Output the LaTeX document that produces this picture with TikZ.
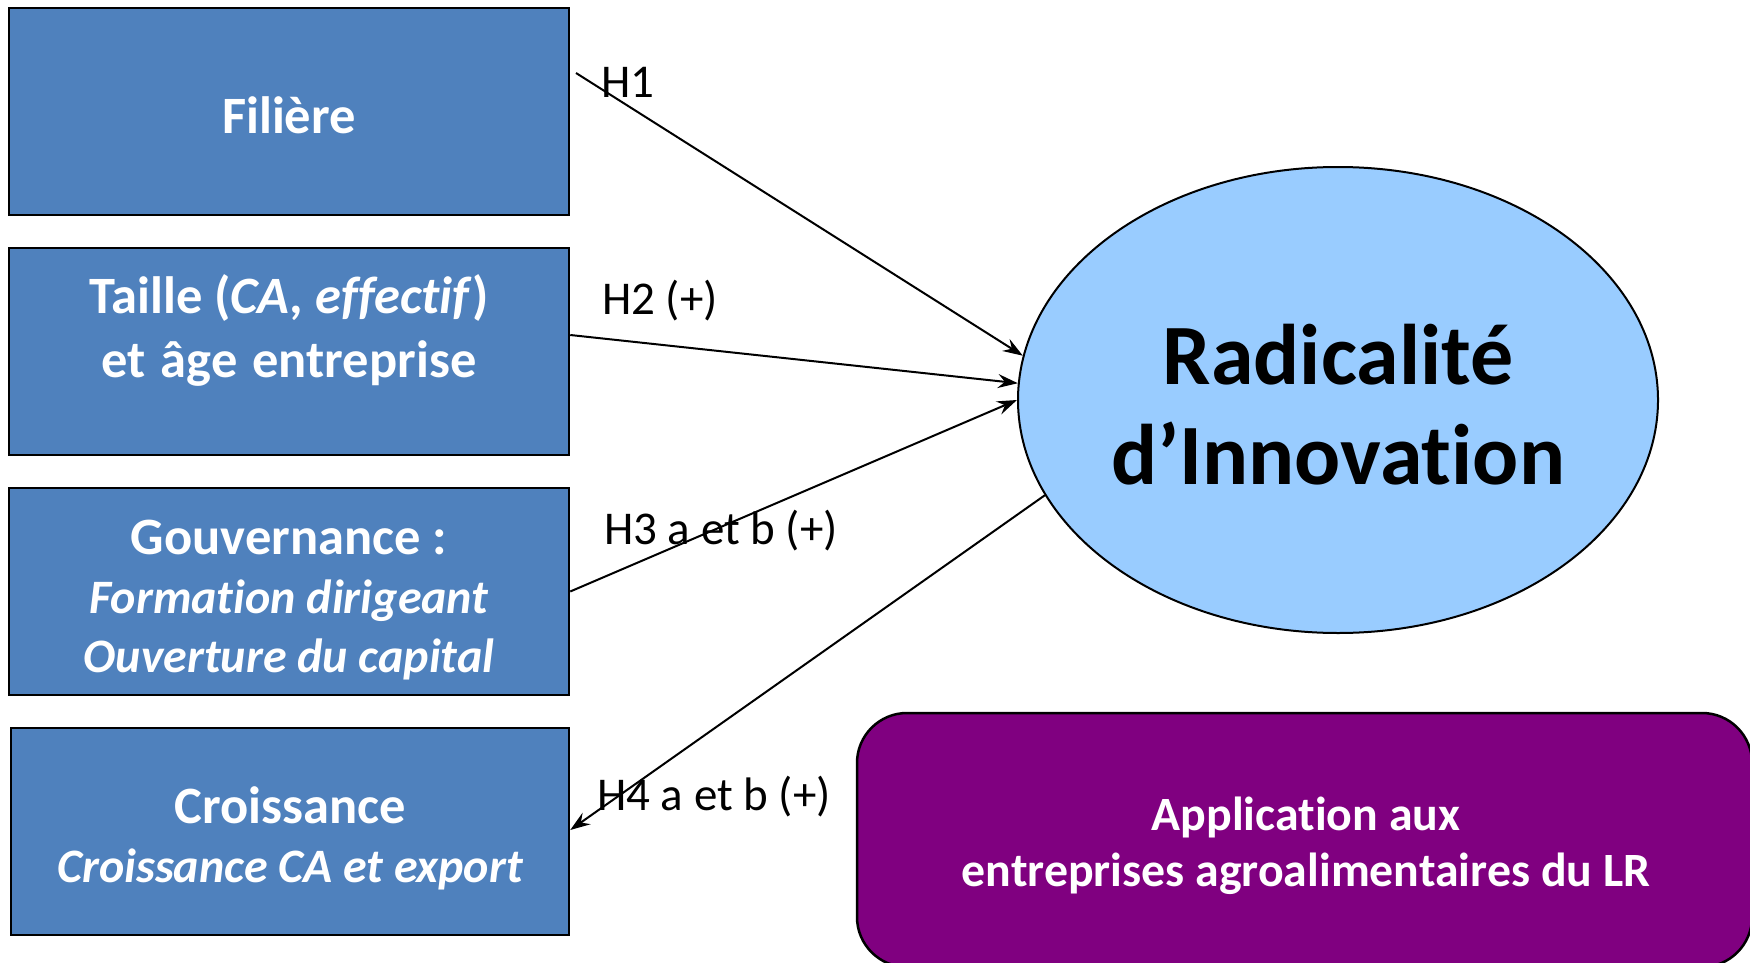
\documentclass[tikz,border=0pt]{standalone}
\usepackage{fontspec}
\setmainfont{Carlito}[Ligatures=CommonOff]
\usetikzlibrary{arrows.meta,shapes.geometric}
\definecolor{boxblue}{HTML}{4F81BD}
\definecolor{ellblue}{HTML}{99CCFF}
\definecolor{appurple}{HTML}{800080}
\newcommand{\ita}[1]{{\fontsize{48}{59}\selectfont\itshape #1}}
\tikzset{
  bbox/.style={draw=black, line width=2.5pt, fill=boxblue,
    minimum width=560pt, minimum height=207pt, inner sep=0pt},
  btext/.style={text=white, align=center, inner sep=0pt,
    font=\fontsize{52.5}{59}\selectfont\bfseries},
  ell/.style={ellipse, draw=black, line width=2pt, fill=ellblue,
    minimum width=640pt, minimum height=466pt, inner sep=0pt},
  etext/.style={align=center, inner sep=0pt, font=\fontsize{86}{100}\selectfont\bfseries},
  pbox/.style={draw=black, line width=2.5pt, fill=appurple,
    rounded corners=50pt, minimum width=895pt, minimum height=254pt, inner sep=0pt},
  ptext/.style={text=white, align=center, inner sep=0pt,
    font=\fontsize{47.8}{56}\selectfont\bfseries},
  hlab/.style={font=\fontsize{47}{56}\selectfont, inner sep=0pt},
  conn/.style={line width=2pt, -{Stealth[length=20pt,width=14pt,inset=7pt]}}
}
\begin{document}
\begin{tikzpicture}[x=1pt,y=-1pt]
\useasboundingbox (0,0) rectangle (1750,963);
\clip (0,0) rectangle (1750,963);
\fill[white] (0,0) rectangle (1750,963);
\node[bbox] (f) at (289,111.5) {};
\node[bbox] (t) at (289,351.5) {};
\node[bbox] (g) at (289,591.5) {};
\node[bbox, minimum width=558pt] (c) at (290,831.5) {};
\node[btext] (ftxt) at ([yshift=-3.3pt]f.center) {Filière};
\node[btext, font=\fontsize{52.5}{64}\selectfont\bfseries] (ttxt) at ([yshift=21.5pt]t.center) {Taille (\textit{CA, effectif})\\et\hspace{15pt}âge\hspace{15pt}entreprise};
\node[btext] (gtxt) at ([yshift=-9pt]g.center) {Gouvernance :\\\ita{Formation dirigeant}\\\ita{Ouverture du capital}};
\node[btext] (ctxt) at ([yshift=-7.3pt]c.center) {Croissance\\\ita{Croissance CA et export}};
\node[ell] (e) at (1338,400) {};
\node[etext] (etxt) at ([yshift=-4.5pt]e.center) {Radicalité\\d’Innovation};
\node[pbox] (app) at (1304.5,840) {};
\node[ptext] (atxt) at (1306,846) {Application aux\\entreprises agroalimentaires du LR};
\coordinate (h1s) at (576,73);
\draw[conn] (h1s) -- (e.172.2);
\draw[conn] ([yshift=16.5pt]t.east) -- (e.177);
\draw[conn] (g.east) -- (e.180);
\draw[conn] (e.198.7) -- ([yshift=1.5pt]c.east);
\node[hlab] (l1) at (628,82) {H1};
\node[hlab] (l2) at (660,301) {H2 (+)};
\node[hlab] (l3) at (721,531) {H3 a et b (+)};
\node[hlab] (l4) at (714,797) {H4 a et b (+)};
\end{tikzpicture}
\end{document}
